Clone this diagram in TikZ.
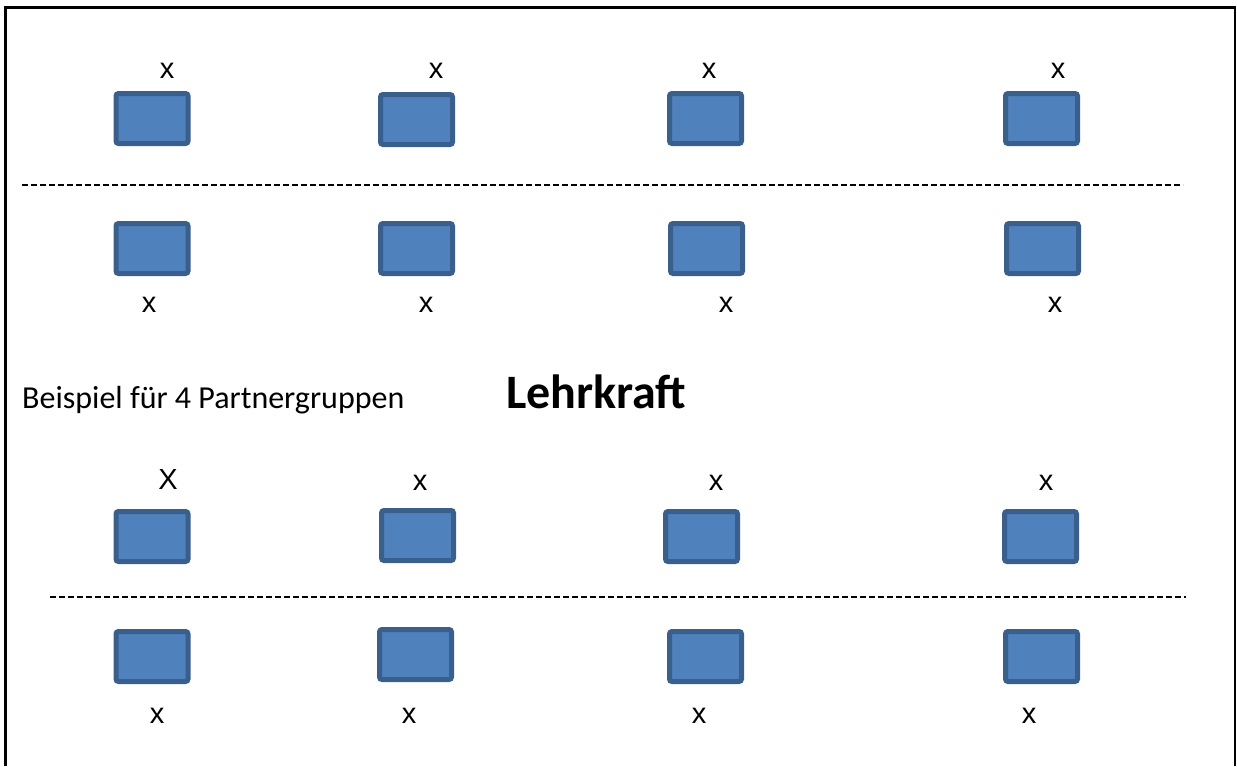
\documentclass[tikz,border=0pt]{standalone}
\usepackage{fontspec}
\setmainfont{Carlito}
\newfontfamily\xfont{Liberation Sans}
\definecolor{boxfill}{HTML}{4F81BD}
\definecolor{boxline}{HTML}{3A5F8C}
\begin{document}
\begin{tikzpicture}[x=1pt,y=-1pt,
  desk/.style={draw=boxline,fill=boxfill,line width=5pt,rounded corners=2.5pt,
    minimum width=72pt,minimum height=50pt,inner sep=0pt,outer sep=0pt,anchor=north west},
  seat/.style={font=\xfont\fontsize{29}{32}\selectfont,inner sep=0pt},
  sep/.style={line width=2.5pt,dash pattern=on 6pt off 3pt},
  frame/.style={line width=2.5pt}]
\useasboundingbox (0,0) rectangle (1237,766);
\draw[frame] (5.5,766) -- (5.5,7.5) -- (1235,7.5) -- (1235,766);
% row 1
\node[desk] (a1) at (116,93.5) {};
\node[desk] (a2) at (380.5,94.5) {};
\node[desk] (a3) at (669.5,93.5) {};
\node[desk] (a4) at (1005.5,93.5) {};
\node[seat] (xa1) at (167,71) {x};
\node[seat] (xa2) at (436,71) {x};
\node[seat] (xa3) at (709,71) {x};
\node[seat] (xa4) at (1058,71) {x};
% separator 1
\coordinate (s1a) at (22,185);
\coordinate (s1b) at (1183,185);
\draw[sep] (s1a) -- (s1b);
% row 2
\node[desk] (b1) at (116,223.5) {};
\node[desk] (b2) at (380.5,223.5) {};
\node[desk] (b3) at (670.5,223.5) {};
\node[desk] (b4) at (1006.5,223.5) {};
\node[seat] (xb1) at (149,305) {x};
\node[seat] (xb2) at (426,305) {x};
\node[seat] (xb3) at (726,305) {x};
\node[seat] (xb4) at (1055,305) {x};
% middle texts
\node[anchor=base west,inner sep=0pt,font=\fontsize{32}{36}\selectfont] (bsp) at (22,408) {Beispiel für 4 Partnergruppen};
\node[anchor=base west,inner sep=0pt,font=\bfseries\fontsize{48}{52}\selectfont] (lk) at (506,408) {Lehrkraft};
% row 3
\node[desk] (c1) at (116,511.5) {};
\node[desk] (c2) at (381.5,510.5) {};
\node[desk] (c3) at (665.5,511.5) {};
\node[desk] (c4) at (1004.5,511.5) {};
\node[seat] (xc1) at (168,480) {X};
\node[seat] (xc2) at (420,483) {x};
\node[seat] (xc3) at (716,483) {x};
\node[seat] (xc4) at (1046,483) {x};
% separator 2
\coordinate (s2a) at (50,597);
\coordinate (s2b) at (1186,597);
\draw[sep] (s2a) -- (s2b);
% row 4
\node[desk] (d1) at (116,631.5) {};
\node[desk] (d2) at (379.5,629.5) {};
\node[desk] (d3) at (669.5,631.5) {};
\node[desk] (d4) at (1005.5,631.5) {};
\node[seat] (xd1) at (157,716) {x};
\node[seat] (xd2) at (409,716) {x};
\node[seat] (xd3) at (699,716) {x};
\node[seat] (xd4) at (1029,716) {x};
\end{tikzpicture}
\end{document}
